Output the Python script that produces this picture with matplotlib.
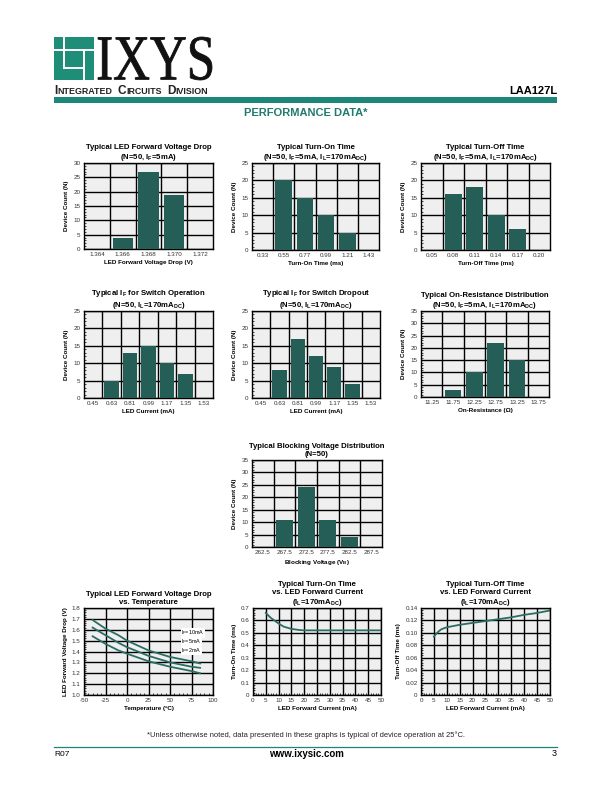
import numpy as np
import matplotlib
matplotlib.use("Agg")
import matplotlib.pyplot as plt
from matplotlib.patches import Rectangle, PathPatch
from matplotlib.textpath import TextPath
from matplotlib.font_manager import FontProperties
from matplotlib.transforms import Affine2D
from matplotlib.ticker import MultipleLocator

plt.rcParams['font.family'] = ['Liberation Sans', 'DejaVu Sans']
plt.rcParams['mathtext.fontset'] = 'custom'
plt.rcParams['mathtext.rm'] = 'Liberation Sans'
plt.rcParams['mathtext.bf'] = 'Liberation Sans:bold'
plt.rcParams['mathtext.it'] = 'Liberation Sans:italic'
plt.rcParams['axes.unicode_minus'] = False

W, H = 612, 792
BAR = '#245e56'
LINE = '#2b6d64'
TEAL = '#1c8679'
PANEL = '#efefef'

# histogram data (N=50 each)
vf_cats = ['1.364', '1.366', '1.368', '1.370', '1.372']
vf_counts = [0, 4, 27, 19, 0]
ton_cats = ['0.33', '0.55', '0.77', '0.99', '1.21', '1.43']
ton_counts = [0, 20, 15, 10, 5, 0]
toff_cats = ['0.05', '0.08', '0.11', '0.14', '0.17', '0.20']
toff_counts = [0, 16, 18, 10, 6, 0]
if_cats = ['0.45', '0.63', '0.81', '0.99', '1.17', '1.35', '1.53']
ifon_counts = [0, 5, 13, 15, 10, 7, 0]
ifoff_counts = [0, 8, 17, 12, 9, 4, 0]
ron_cats = ['11.25', '11.75', '12.25', '12.75', '13.25', '13.75']
ron_counts = [0, 3, 10, 22, 15, 0]
vb_cats = ['262.5', '267.5', '272.5', '277.5', '282.5', '287.5']
vb_counts = [0, 11, 24, 11, 4, 0]

# curve data
temp_c = [-40, -25, -10, 0, 25, 50, 75, 85]
vf_10ma = [1.69, 1.61, 1.55, 1.50, 1.41, 1.35, 1.31, 1.29]
vf_5ma = [1.62, 1.55, 1.48, 1.44, 1.36, 1.30, 1.26, 1.25]
vf_2ma = [1.54, 1.47, 1.41, 1.38, 1.31, 1.26, 1.22, 1.20]

ton_if = [5, 7, 10, 12, 15, 18, 20, 25, 30, 35, 40, 45, 50]
ton_ms = [0.66, 0.62, 0.575, 0.55, 0.532, 0.523, 0.52, 0.52, 0.52, 0.52, 0.52, 0.52, 0.52]
toff_if = [5, 6, 7, 8, 10, 15, 20, 25, 30, 35, 40, 45, 50]
toff_ms = [0.094, 0.099, 0.103, 0.106, 0.109, 0.113, 0.116, 0.119, 0.122, 0.125, 0.129, 0.132, 0.136]

fig = plt.figure(figsize=(W / 100, H / 100), dpi=100)

# full page overlay in pixel units
bg = fig.add_axes([0, 0, 1, 1])
bg.set_xlim(0, W)
bg.set_ylim(H, 0)
bg.axis('off')


def px_axes(l, t, r, b):
    return fig.add_axes([l / W, 1 - b / H, (r - l) / W, (b - t) / H])


def style(ax):
    ax.set_facecolor(PANEL)
    for s in ax.spines.values():
        s.set_linewidth(1.0)
        s.set_color('black')
    ax.tick_params(axis='both', which='major', labelsize=4.5, length=0, pad=2.5, colors='#333333')
    ax.tick_params(axis='both', which='minor', direction='in', length=1.6, width=0.5)
    ax.set_axisbelow(True)


def hist_chart(box, cats, counts, ymax, title, xlabel):
    ax = px_axes(*box)
    style(ax)
    x = np.arange(len(cats))
    ax.bar(x, counts, width=0.78, color=BAR, zorder=3)
    ax.set_xlim(-0.5, len(cats) - 0.5)
    ax.set_ylim(0, ymax)
    ax.set_xticks(x, cats)
    ax.yaxis.set_major_locator(MultipleLocator(5))
    ax.yaxis.set_minor_locator(MultipleLocator(1))
    ax.tick_params(axis='x', which='minor', length=0)
    ax.yaxis.grid(True, color='black', linewidth=1.0)
    for e in x[:-1] + 0.5:
        ax.axvline(e, color='black', linewidth=1.0, zorder=1)
    ax.set_title(title, fontsize=5.6, fontweight='bold', pad=3, linespacing=1.15)
    ax.set_xlabel(xlabel, fontsize=4.5, fontweight='bold', labelpad=2)
    ax.set_ylabel('Device Count (N)', fontsize=4.5, fontweight='bold', labelpad=3)
    return ax


sub = lambda s: r'$_\mathbf{' + s + '}$'

hist_chart((84, 163, 213, 249), vf_cats, vf_counts, 30,
           'Typical LED Forward Voltage Drop\n(N=50, I' + sub('F') + '=5mA)',
           'LED Forward Voltage Drop (V)')
hist_chart((252, 163, 379, 250), ton_cats, ton_counts, 25,
           'Typical Turn-On Time\n(N=50, I' + sub('F') + '=5mA, I' + sub('L') + '=170mA' + sub('DC') + ')',
           'Turn-On Time (ms)')
hist_chart((421, 163, 550, 250), toff_cats, toff_counts, 25,
           'Typical Turn-Off Time\n(N=50, I' + sub('F') + '=5mA, I' + sub('L') + '=170mA' + sub('DC') + ')',
           'Turn-Off Time (ms)')
hist_chart((84, 311, 213, 398), if_cats, ifon_counts, 25,
           'Typical I' + sub('F') + ' for Switch Operation\n(N=50, I' + sub('L') + '=170mA' + sub('DC') + ')',
           'LED Current (mA)')
hist_chart((252, 311, 380, 398), if_cats, ifoff_counts, 25,
           'Typical I' + sub('F') + ' for Switch Dropout\n(N=50, I' + sub('L') + '=170mA' + sub('DC') + ')',
           'LED Current (mA)')
hist_chart((421, 311, 549, 397), ron_cats, ron_counts, 35,
           'Typical On-Resistance Distribution\n(N=50, I' + sub('F') + '=5mA, I' + sub('L') + '=170mA' + sub('DC') + ')',
           'On-Resistance (\u03a9)')
hist_chart((252, 460, 382, 547), vb_cats, vb_counts, 35,
           'Typical Blocking Voltage Distribution\n(N=50)',
           'Blocking Voltage (V' + sub('B') + ')')


def line_chart(box, xlim, xstep, xminor, ylim, ystep, yminor, yfmt, title, xlabel, ylabel):
    ax = px_axes(*box)
    style(ax)
    ax.set_xlim(*xlim)
    ax.set_ylim(*ylim)
    ax.xaxis.set_major_locator(MultipleLocator(xstep))
    ax.xaxis.set_minor_locator(MultipleLocator(xminor))
    ax.yaxis.set_major_locator(MultipleLocator(ystep))
    ax.yaxis.set_minor_locator(MultipleLocator(yminor))
    ax.yaxis.set_major_formatter(yfmt)
    ax.grid(True, which='major', color='black', linewidth=1.0)
    ax.set_title(title, fontsize=5.6, fontweight='bold', pad=3, linespacing=1.15)
    ax.set_xlabel(xlabel, fontsize=4.5, fontweight='bold', labelpad=2)
    ax.set_ylabel(ylabel, fontsize=4.5, fontweight='bold', labelpad=3)
    return ax


ax = line_chart((84, 608, 213, 695), (-50, 100), 25, 5, (1.0, 1.8), 0.1, 0.02,
                lambda v, p: '%.1f' % v,
                'Typical LED Forward Voltage Drop\nvs. Temperature',
                'Temperature (\u00baC)', 'LED Forward Voltage Drop (V)')
for ys in (vf_10ma, vf_5ma, vf_2ma):
    ax.plot(temp_c, ys, color=LINE, linewidth=1.3)
for lbl, yy in (('10mA', 1.57), ('5mA', 1.49), ('2mA', 1.41)):
    ax.text(63, yy, 'I' + r'$_\mathregular{F}$' + '=' + lbl, fontsize=3.9, va='center', ha='left',
            bbox=dict(facecolor='white', edgecolor='none', pad=0.3))

ax = line_chart((253, 608, 381, 695), (0, 50), 5, 1, (0, 0.7), 0.1, 0.02,
                lambda v, p: '0' if abs(v) < 1e-9 else '%.1f' % v,
                'Typical Turn-On Time\nvs. LED Forward Current\n(I' + sub('L') + '=170mA' + sub('DC') + ')',
                'LED Forward Current (mA)', 'Turn-On Time (ms)')
ax.plot(ton_if, ton_ms, color=LINE, linewidth=1.3)

ax = line_chart((421, 608, 550, 695), (0, 50), 5, 1, (0, 0.14), 0.02, 0.004,
                lambda v, p: '0' if abs(v) < 1e-9 else '%.2f' % v,
                'Typical Turn-Off Time\nvs. LED Forward Current\n(I' + sub('L') + '=170mA' + sub('DC') + ')',
                'LED Forward Current (mA)', 'Turn-Off Time (ms)')
ax.plot(toff_if, toff_ms, color=LINE, linewidth=1.3)

# ---- header ----
# logo squares
LOGO = '#1e8e78'
logo = [(54, 37, 9, 12), (65, 37, 29, 12), (54, 51, 9, 29), (65, 51, 18, 16),
        (54, 69, 29, 11), (85, 51, 9, 29)]
for (lx, ly, lw, lh) in logo:
    bg.add_patch(Rectangle((lx, ly), lw, lh, facecolor=LOGO, edgecolor='none'))

tp = TextPath((0, 0), 'IXYS', size=100, prop=FontProperties(family='Liberation Serif'))
ext = tp.get_extents()
x0, x1, y0, y1 = 98, 212, 37, 80
tr = Affine2D().translate(-ext.x0, -ext.y0).scale((x1 - x0) / ext.width, -(y1 - y0) / ext.height).translate(x0, y1)
bg.add_patch(PathPatch(tr.transform_path(tp), facecolor='#111111', edgecolor='#111111', linewidth=0.6))

renderer = fig.canvas.get_renderer()
cx = 54
for s, size in (('I', 8.6), ('NTEGRATED', 6.4), (' ', 6.4), ('C', 8.6), ('IRCUITS', 6.4), (' ', 6.4),
                ('D', 8.6), ('IVISION', 6.4)):
    t = bg.text(cx, 94, s, fontsize=size, fontweight='bold', va='baseline', ha='left', color='#222222')
    cx += t.get_window_extent(renderer=renderer).width + (2.2 if s == ' ' else 0.3)

bg.text(557, 94, 'LAA127L', fontsize=8, fontweight='bold', ha='right', va='baseline')
bg.add_patch(Rectangle((54, 97), 503, 6, facecolor=TEAL, edgecolor='none'))
bg.text(306, 113, 'PERFORMANCE DATA*', fontsize=8, fontweight='bold', ha='center', va='center', color='#1e7a6d')

# ---- footer ----
bg.text(306, 735, '*Unless otherwise noted, data presented in these graphs is typical of device operation at 25\u00b0C.',
        fontsize=5.4, ha='center', va='center', color='#222222')
bg.plot([54, 557], [747, 747], color=TEAL, linewidth=0.9)
bg.text(54, 754, 'R07', fontsize=6, ha='left', va='center')
bg.text(306, 754, 'www.ixysic.com', fontsize=7, fontweight='bold', ha='center', va='center')
bg.text(557, 754, '3', fontsize=6.5, ha='right', va='center')

fig.savefig('out.png', dpi=100)
